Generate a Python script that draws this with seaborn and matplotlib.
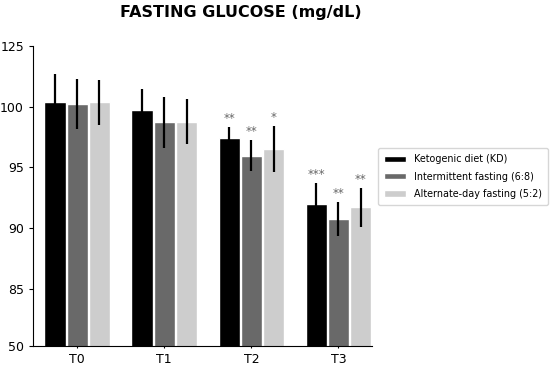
import matplotlib
matplotlib.use("Agg")
import matplotlib.pyplot as plt
import seaborn as sns
import numpy as np
import pandas as pd

# Datos (glucosa en ayunas, mg/dL)
timepoints = ["T0", "T1", "T2", "T3"]
groups = ["Ketogenic diet (KD)", "Intermittent fasting (6:8)", "Alternate-day fasting (5:2)"]
kd_mean = [100.35, 99.73, 97.45, 92.01]
if_mean = [100.19, 98.71, 95.96, 90.77]
adf_mean = [100.35, 98.76, 96.48, 91.71]
kd_err = [2.3, 1.75, 0.9, 1.7]
if_err = [2.05, 2.1, 1.3, 1.4]
adf_err = [1.85, 1.85, 1.9, 1.6]
kd_sig = ["", "", "**", "***"]
if_sig = ["", "", "**", "**"]
adf_sig = ["", "", "*", "**"]

# Eje Y del original: posiciones lineales con etiquetas "rotas"
ytick_values = [80.3, 85, 90, 95, 100, 105]
ytick_labels = ["50", "85", "90", "95", "100", "125"]

palette = ["#000000", "#696969", "#cdcdcd"]

rows = []
for g, means, errs, sigs in zip(groups, [kd_mean, if_mean, adf_mean],
                                [kd_err, if_err, adf_err], [kd_sig, if_sig, adf_sig]):
    for t, m, e, s in zip(timepoints, means, errs, sigs):
        rows.append({"Time": t, "Group": g, "Glucose": m, "Err": e, "Sig": s})
df = pd.DataFrame(rows)

sns.set_style("ticks", {"text.color": "black", "xtick.color": "black",
                        "ytick.color": "black", "axes.edgecolor": "black"})
plt.rcParams['font.family'] = ['DejaVu Sans']

fig = plt.figure(figsize=(5.5, 3.66), dpi=100)
ax = fig.add_axes([0.06, 0.0546, 0.616, 0.8204])

sns.barplot(data=df, x="Time", y="Glucose", hue="Group", palette=palette,
            errorbar=None, width=0.765, gap=0.04, saturation=1, ax=ax)

# Barras de error y asteriscos sobre cada barra
for bars, g in zip(ax.containers, groups):
    sub = df[df["Group"] == g]
    for p, (_, r) in zip(bars.patches, sub.iterrows()):
        xc = p.get_x() + p.get_width() / 2
        ax.errorbar(xc, r["Glucose"], yerr=r["Err"], color="black", lw=1.6,
                    capsize=0, zorder=3)
        if r["Sig"]:
            ax.text(xc, r["Glucose"] + r["Err"] + 0.15, r["Sig"], ha="center",
                    va="bottom", fontsize=8.5, color="#666666")

ax.set_ylim(80.3, 105)
ax.set_xlim(-0.508, 3.383)
ax.set_yticks(ytick_values)
ax.set_yticklabels(ytick_labels)
ax.tick_params(axis="both", labelsize=9, length=3, width=0.8)
ax.tick_params(axis="x", length=1.5)
ax.set_xlabel("")
ax.set_ylabel("")
sns.despine(ax=ax)

handles, labels = ax.get_legend_handles_labels()
ax.get_legend().remove()
fig.legend(handles, labels, loc="upper left", bbox_to_anchor=(0.679, 0.608),
           fontsize=6.9, frameon=True, handlelength=2.2, handleheight=0.6,
           handletextpad=0.9, borderpad=0.65, labelspacing=0.75, fancybox=True,
           edgecolor="#cccccc")

fig.text(0.438, 0.965, "FASTING GLUCOSE (mg/dL)", ha="center", va="center",
         fontsize=11.5, weight="bold")

plt.savefig("out.png", dpi=100)
